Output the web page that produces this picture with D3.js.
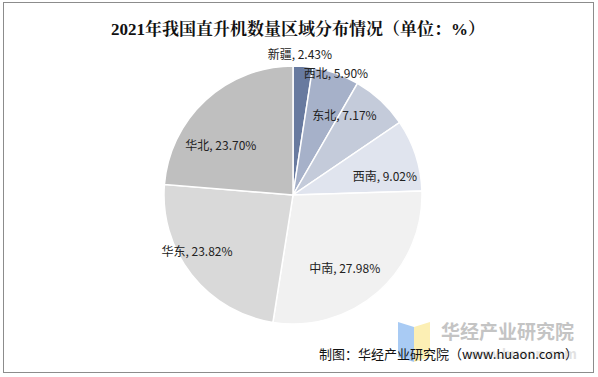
<!DOCTYPE html>
<html><head><meta charset="utf-8">
<script src="https://cdn.jsdelivr.net/npm/d3@7"></script>
<style>body{margin:0;background:#fff}svg{display:block}</style>
</head><body>
<script>
const categories = ["新疆","西北","东北","西南","中南","华东","华北"];
const values = [2.43, 5.90, 7.17, 9.02, 27.98, 23.82, 23.70];
const colors = ["#687A9F","#A6B1C9","#C4CBDA","#E0E4EE","#F1F1F1","#D9D9D9","#BFBFBF"];
// label nudges (layout only)
const labelNudge = [[0,-51],[13,-37],[-10,-14],[6,8],[-8,5],[-25,0],[-11,16]];
const title = "2021年我国直升机数量区域分布情况（单位：%）";
const source = "制图：华经产业研究院（www.huaon.com）";

const W=598,H=377;
const svg=d3.select("body").append("svg").attr("width",W).attr("height",H);
svg.append("rect").attr("x",3.5).attr("y",2.5).attr("width",590).attr("height",370)
  .attr("fill","#fff").attr("stroke","#8c8c8c").attr("stroke-width",1);

svg.append("text").attr("x",298).attr("y",35).attr("text-anchor","middle")
  .attr("font-family","'Liberation Serif','Noto Serif CJK SC','Noto Sans CJK SC',serif")
  .attr("font-weight","bold").attr("font-size",17).attr("fill","#111").text(title);

const cx=293, cy=195, r=129;
const data=categories.map((c,i)=>({c,v:values[i],i}));
const pie=d3.pie().value(d=>d.v).sort(null);
const arc=d3.arc().innerRadius(0).outerRadius(r);
const lArc=d3.arc().innerRadius(r*0.7).outerRadius(r*0.7);
const g=svg.append("g").attr("transform",`translate(${cx},${cy})`);
const arcs=pie(data);
g.selectAll("path").data(arcs).join("path").attr("d",arc)
  .attr("fill",d=>colors[d.data.i]).attr("stroke","#fff").attr("stroke-width",1.5);

// watermark
const wm=svg.append("g");
wm.append("polygon").attr("points","398,322 414,327 414,362 398,357").attr("fill","#A9CBF4");
wm.append("polygon").attr("points","414,327 430,322 430,357 414,362").attr("fill","#FCEFB4");
wm.append("text").attr("x",441).attr("y",339).attr("font-family","'Noto Sans CJK SC',sans-serif")
  .attr("font-weight","bold").attr("font-size",19).attr("fill","#C4C4C4").text("华经产业研究院");
wm.append("text").attr("x",466).attr("y",359).attr("font-family","Arial,'Liberation Sans',sans-serif")
  .attr("font-weight","bold").attr("font-size",14).attr("fill","#E2E2E2").text("www.huaon.com");

g.selectAll("text.lbl").data(arcs).join("text").attr("class","lbl")
  .attr("x",d=>lArc.centroid(d)[0]+labelNudge[d.data.i][0])
  .attr("y",d=>lArc.centroid(d)[1]+labelNudge[d.data.i][1])
  .attr("text-anchor","middle").attr("dominant-baseline","central")
  .attr("font-family","'Noto Sans CJK SC','Liberation Sans',sans-serif").attr("font-size",12)
  .attr("fill","#222").text(d=>`${d.data.c}, ${d.data.v.toFixed(2)}%`);

svg.append("text").attr("x",578).attr("y",359).attr("text-anchor","end")
  .attr("font-family","'Noto Sans CJK SC','Liberation Sans',sans-serif").attr("font-size",13)
  .attr("fill","#111").text(source);
</script>
</body></html>
